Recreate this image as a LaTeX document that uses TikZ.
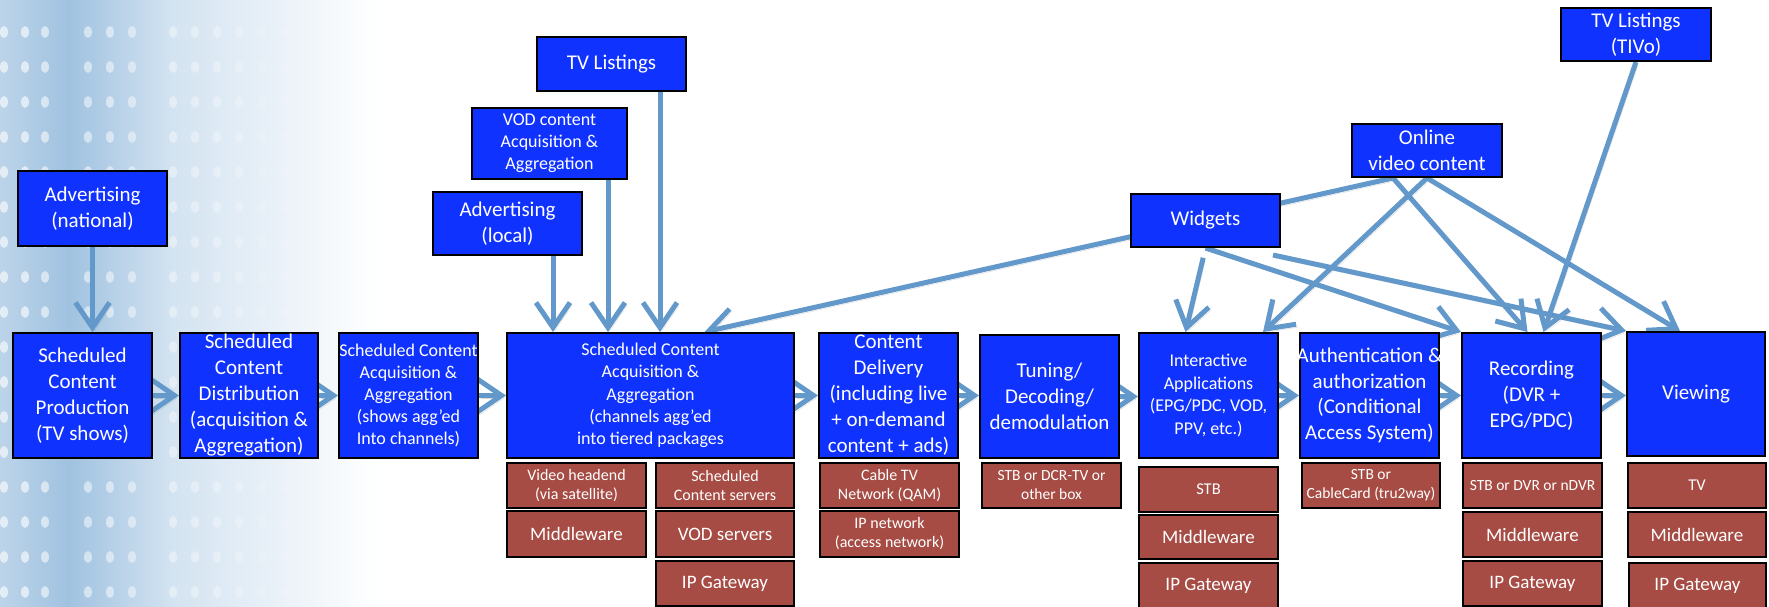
\documentclass[tikz,border=0pt]{standalone}
\usepackage{fontspec}
\setmainfont{Carlito}
\usetikzlibrary{arrows.meta,calc}

\definecolor{boxblue}{RGB}{16,50,255}
\definecolor{boxred}{RGB}{166,76,68}
\definecolor{flowblue}{RGB}{99,153,202}
\definecolor{bgblue}{RGB}{160,194,224}

\pgfdeclarelayer{bg}
\pgfdeclarelayer{edges}
\pgfsetlayers{bg,edges,main}

\pgfdeclarehorizontalshading{leftfade}{100bp}{color(0bp)=(bgblue!70!white); color(25bp)=(bgblue!70!white); color(34bp)=(bgblue); color(48bp)=(bgblue!45!white); color(75bp)=(white); color(100bp)=(white)}

\tikzset{
  stagebox/.style={draw=black, line width=2pt, fill=boxblue, text=white, align=center,
    inner sep=0pt, minimum width=139pt, minimum height=125pt, font=\fontsize{21}{26}\selectfont},
  topbox/.style={draw=black, line width=2pt, fill=boxblue, text=white, align=center,
    inner sep=0pt, minimum width=149pt, font=\fontsize{21}{26}\selectfont},
  techbox/.style={draw=black, line width=1.6pt, fill=boxred, text=white, align=center,
    inner sep=0pt, minimum width=139pt, minimum height=45pt, font=\fontsize{16}{19}\selectfont},
  flow/.style={draw=flowblue, line width=5pt, -{Straight Barb[length=25pt,width=34pt]},
    preaction={draw=black, opacity=0.15, transform canvas={shift={(2pt,-3pt)}}}},
}
\newcommand\wideline[1]{\makebox[0pt]{#1}}

\begin{document}
\begin{tikzpicture}[x=1pt, y=-1pt]
\useasboundingbox (0,0) rectangle (1769,606);

% background fade with dots
\begin{pgfonlayer}{bg}
  \shade[shading=leftfade] (0,0) rectangle (380,606);
  \foreach \x/\o in {4/0.6, 25/0.6, 45/0.55, 88/0.5, 110/0.5, 132/0.45, 173/0.4, 195/0.35, 217/0.3, 239/0.25, 262/0.15, 284/0.1}
    \foreach \y in {32,67,...,600}
      \fill[white, opacity=\o] (\x,\y) ellipse (4 and 6);
\end{pgfonlayer}

% main chain
\node[stagebox] (prod) at (82.5,395.5) {Scheduled\\Content\\Production\\(TV shows)};
\node[stagebox, minimum width=138pt] (dist) at (249,395.5) {Scheduled\\Content\\Distribution\\(acquisition \&\\Aggregation)};
\node[stagebox, font=\fontsize{18}{22}\selectfont] (acqshow) at (408.5,395.5) {Scheduled Content\\Acquisition \&\\Aggregation\\(shows agg’ed\\Into channels)};
\node[stagebox, minimum width=287pt, font=\fontsize{18}{22.3}\selectfont] (big) at (650.5,395.5) {Scheduled Content\\Acquisition \&\\Aggregation\\(channels agg’ed\\into tiered packages};
\node[stagebox] (deliv) at (888.5,395.5) {Content\\Delivery\\(including live\\+ on-demand\\content + ads)};
\node[stagebox, minimum height=123pt] (tune) at (1049.5,396.5) {Tuning/\\Decoding/\\demodulation};
\node[stagebox, font=\fontsize{18}{22.5}\selectfont] (inter) at (1208.5,395.5) {Interactive\\Applications\\(EPG/PDC, VOD,\\PPV, etc.)};
\node[stagebox, font=\fontsize{21}{25.5}\selectfont] (auth) at (1369.5,395.5) {\wideline{Authentication \&}\\authorization\\(Conditional\\\wideline{Access System)}};
\node[stagebox] (rec) at (1531.5,395.5) {Recording\\(DVR +\\EPG/PDC)};
\node[stagebox, minimum width=138pt, minimum height=124pt] (view) at (1696,394) {Viewing};

% feeding boxes
\node[topbox, minimum height=75pt] (advnat) at (92.5,208.5) {Advertising\\(national)};
\node[topbox, minimum height=54pt] (tvlist) at (611.5,64) {TV Listings};
\node[topbox, minimum width=155pt, minimum height=71pt, font=\fontsize{18}{22}\selectfont] (vod) at (549.5,143.5) {VOD content\\Acquisition \&\\Aggregation};
\node[topbox, minimum height=63pt] (advloc) at (507.5,223.5) {Advertising\\(local)};
\node[topbox, minimum height=53pt] (widgets) at (1205.5,220.5) {Widgets};
\node[topbox, minimum width=150pt, minimum height=53pt] (online) at (1427,150.5) {Online\\video content};
\node[topbox, minimum width=150pt, minimum height=53pt] (tivo) at (1636,34.5) {TV Listings\\(TIVo)};

% equipment boxes
\node[techbox] (headend) at (576.5,485.5) {Video headend\\(via satellite)};
\node[techbox, minimum height=46pt, font=\fontsize{19}{22}\selectfont] (mwa) at (576.5,534) {Middleware};
\node[techbox, minimum width=138pt] (srv) at (725,485.5) {Scheduled\\Content servers};
\node[techbox, minimum width=138pt, minimum height=46pt, font=\fontsize{19}{22}\selectfont] (vodsrv) at (725,534) {VOD servers};
\node[techbox, minimum width=138pt, font=\fontsize{19}{22}\selectfont] (ipga) at (725,583.5) {IP Gateway};
\node[techbox] (cable) at (889.5,485.5) {Cable TV\\Network (QAM)};
\node[techbox, minimum height=46pt] (ipnet) at (889.5,534) {IP network\\(access network)};
\node[techbox, font=\fontsize{15.5}{19}\selectfont] (stbdcr) at (1051.5,485.5) {STB or DCR-TV or\\other box};
\node[techbox, font=\fontsize{16.5}{19}\selectfont] (stb) at (1208.5,489.5) {STB};
\node[techbox, minimum height=44pt, font=\fontsize{19}{22}\selectfont] (mwb) at (1208.5,537) {Middleware};
\node[techbox, font=\fontsize{19}{22}\selectfont] (ipgb) at (1208.5,585.5) {IP Gateway};
\node[techbox, minimum width=138pt, font=\fontsize{15.5}{19}\selectfont] (stbcc) at (1371,485.5) {STB or\\CableCard (tru2way)};
\node[techbox, font=\fontsize{15.5}{19}\selectfont] (stbdvr) at (1532.5,485.5) {STB or DVR or nDVR};
\node[techbox, font=\fontsize{19}{22}\selectfont] (mwc) at (1532.5,534.5) {Middleware};
\node[techbox, font=\fontsize{19}{22}\selectfont] (ipgc) at (1532.5,583.5) {IP Gateway};
\node[techbox, minimum width=138pt, font=\fontsize{16.5}{19}\selectfont] (tv) at (1697,485.5) {TV};
\node[techbox, minimum width=138pt, font=\fontsize{19}{22}\selectfont] (mwd) at (1697,534.5) {Middleware};
\node[techbox, minimum width=137pt, font=\fontsize{19}{22}\selectfont] (ipgd) at (1697.5,585.5) {IP Gateway};

% connectors
\begin{pgfonlayer}{edges}
  \foreach \a/\b in {prod/dist, dist/acqshow, acqshow/big, big/deliv, deliv/tune, tune/inter, inter/auth, auth/rec, rec/view}
    \draw[flow] (\a.east) -- (\a.east -| \b.west);
  \coordinate (ovc) at ([xshift=-34pt]online.south);
  \draw[flow] (advnat.south) -- (advnat.south |- prod.north);
  \draw[flow] ([xshift=-30pt]advloc.south east) -- ([xshift=-30pt]advloc.south east |- big.north);
  \draw[flow] ([xshift=-20pt]vod.south east) -- ([xshift=-20pt]vod.south east |- big.north);
  \draw[flow] ([xshift=-27pt]tvlist.south east) -- ([xshift=-27pt]tvlist.south east |- big.north);
  \draw[flow] (ovc) -- ([xshift=54pt]big.north);
  \draw[flow] (ovc) -- ([xshift=-4pt]rec.north);
  \draw[flow] (online.south) -- ([xshift=-16pt]inter.north east);
  \draw[flow] (online.south) -- ([xshift=-16pt]view.north);
  \draw[flow] (widgets.south) -- (rec.north west);
  \draw[flow] ([shift={(-8pt,-7pt)}]widgets.south east) -- (view.north west);
  \draw[flow, shorten <=10pt] (widgets.south) -- ([xshift=-23pt]inter.north);
  \draw[flow] (tivo.south) -- ([xshift=12pt]rec.north);
\end{pgfonlayer}
\end{tikzpicture}
\end{document}
